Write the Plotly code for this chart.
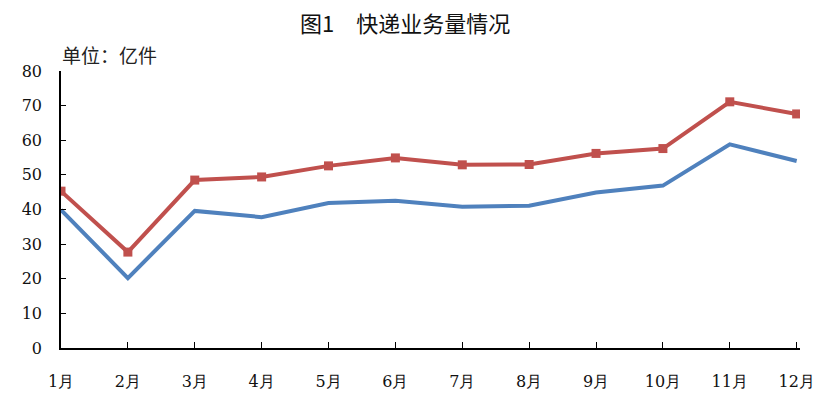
import plotly.graph_objects as go

months = ['1月', '2月', '3月', '4月', '5月', '6月', '7月', '8月', '9月', '10月', '11月', '12月']
blue_vals = [39.9, 20.2, 39.6, 37.8, 41.9, 42.5, 40.8, 41.1, 44.9, 46.9, 58.8, 54.0]
red_vals = [45.3, 27.7, 48.5, 49.4, 52.6, 54.9, 52.9, 53.0, 56.2, 57.6, 71.1, 67.6]
y_ticks = [0, 10, 20, 30, 40, 50, 60, 70, 80]

x_pos = list(range(len(months)))

fig = go.Figure()

fig.add_trace(go.Scatter(
    x=x_pos, y=blue_vals, mode='lines',
    line=dict(color='#4F81BD', width=4),
    showlegend=False
))

fig.add_trace(go.Scatter(
    x=x_pos, y=red_vals, mode='lines+markers',
    line=dict(color='#C0504D', width=4),
    marker=dict(symbol='square', size=9, color='#C0504D'),
    showlegend=False
))

# 页面默认有 8px 的 body 边距, 图形尺寸相应缩小
serif = 'DejaVu Serif'

fig.update_layout(
    width=824, height=402,
    margin=dict(l=53, r=32, t=63, b=62, autoexpand=False),
    paper_bgcolor='white', plot_bgcolor='white',
    title=dict(text='图1　快递业务量情况', x=0.482, xanchor='center', y=0.96, yanchor='middle',
               font=dict(family='Noto Sans CJK SC', size=22, color='#111')),
    annotations=[dict(text='单位：亿件', xref='paper', yref='paper', x=-0.002, y=1.005,
                      xanchor='left', yanchor='bottom', showarrow=False,
                      font=dict(family='Noto Sans CJK SC', size=19, color='#222'))],
    font=dict(family=serif, size=16, color='#111'),
)

fig.update_xaxes(
    range=[0, 11.05], tickvals=x_pos, ticktext=months,
    showgrid=False, zeroline=False, automargin=False,
    showline=True, linecolor='black', linewidth=1.5,
    ticks='inside', ticklen=6, tickcolor='black',
    ticklabelstandoff=18, tickfont=dict(family=serif, size=16),
)
fig.update_yaxes(
    range=[0, 80], tickvals=y_ticks,
    showgrid=False, zeroline=False, automargin=False,
    showline=True, linecolor='black', linewidth=1.5,
    ticks='inside', ticklen=5, tickcolor='black',
    ticklabelstandoff=14, tickfont=dict(family=serif, size=16),
)

fig.write_html("out.html")
